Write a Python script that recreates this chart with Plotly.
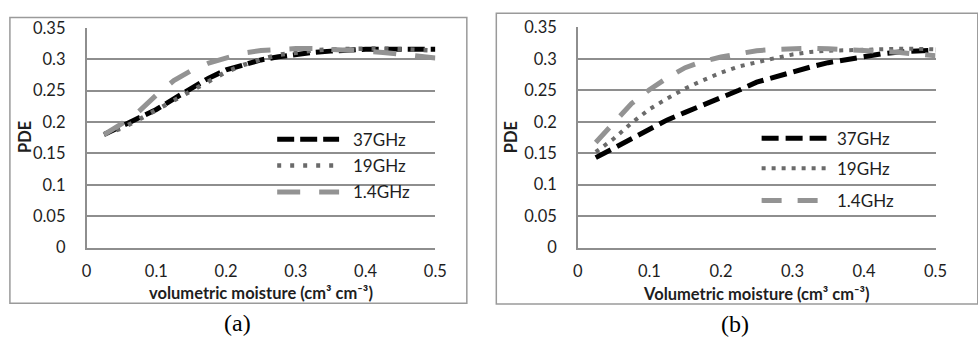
import plotly.graph_objects as go

# Volumetric soil moisture (cm3 cm-3)
moisture = [0.025, 0.05, 0.075, 0.1, 0.125, 0.15, 0.175, 0.2, 0.225, 0.25,
            0.275, 0.3, 0.325, 0.35, 0.375, 0.4, 0.425, 0.45, 0.475, 0.5]

# Panel (a): PDE per frequency
a_37ghz = [0.18, 0.193, 0.206, 0.22, 0.237, 0.254, 0.27, 0.283, 0.292, 0.299,
           0.304, 0.308, 0.311, 0.313, 0.315, 0.316, 0.316, 0.316, 0.316, 0.316]
a_19ghz = [0.18, 0.19, 0.204, 0.219, 0.234, 0.25, 0.266, 0.28, 0.291, 0.3,
           0.307, 0.311, 0.314, 0.316, 0.317, 0.317, 0.317, 0.316, 0.315, 0.314]
a_1_4ghz = [0.18, 0.197, 0.217, 0.243, 0.266, 0.282, 0.294, 0.303, 0.31, 0.314,
            0.316, 0.317, 0.317, 0.316, 0.315, 0.313, 0.311, 0.308, 0.305, 0.302]

# Panel (b): PDE per frequency
b_37ghz = [0.143, 0.158, 0.173, 0.188, 0.203, 0.215, 0.226, 0.238, 0.25, 0.263,
           0.271, 0.281, 0.287, 0.294, 0.299, 0.304, 0.308, 0.311, 0.313, 0.314]
b_19ghz = [0.152, 0.173, 0.198, 0.22, 0.237, 0.253, 0.266, 0.278, 0.288, 0.295,
           0.301, 0.307, 0.311, 0.313, 0.314, 0.315, 0.316, 0.316, 0.316, 0.315]
b_1_4ghz = [0.167, 0.198, 0.229, 0.251, 0.27, 0.286, 0.296, 0.303, 0.309, 0.313,
            0.315, 0.316, 0.317, 0.316, 0.315, 0.314, 0.312, 0.31, 0.307, 0.305]

series_names = ["37GHz", "19GHz", "1.4GHz"]
x_ticks = [0, 0.1, 0.2, 0.3, 0.4, 0.5]
x_ticktext = ["0", "0.1", "0.2", "0.3", "0.4", "0.5"]
y_ticks = [0, 0.05, 0.1, 0.15, 0.2, 0.25, 0.3, 0.35]
y_ticktext = ["0", "0.05", "0.1", "0.15", "0.2", "0.25", "0.3", "0.35"]

W, H = 978, 349
FONT = "Lato"
TXT = "#1e1e1e"
GRID = "#8e8e8e"
FRAME = "#9a9a9a"


def px(x):
    return x / W


def py(y):
    return 1 - y / H


styles = {
    "a": [
        dict(color="#000000", width=5, dash="17px,6px"),
        dict(color="#6a6a6a", width=4.5, dash="4px,9px"),
        dict(color="#939393", width=5, dash="23px,19px"),
    ],
    "b": [
        dict(color="#000000", width=5, dash="17px,7px"),
        dict(color="#6a6a6a", width=4, dash="4px,6px"),
        dict(color="#939393", width=5, dash="20px,16px"),
    ],
}

fig = go.Figure()

panels = [
    ("a", "x", "y", [a_37ghz, a_19ghz, a_1_4ghz]),
    ("b", "x2", "y2", [b_37ghz, b_19ghz, b_1_4ghz]),
]
for key, xa, ya, ys in panels:
    for name, vals, st in zip(series_names, ys, styles[key]):
        fig.add_trace(go.Scatter(
            x=moisture, y=vals, name=name, mode="lines",
            line=dict(color=st["color"], width=st["width"], dash=st["dash"]),
            xaxis=xa, yaxis=ya, showlegend=False,
        ))

axis_common = dict(
    tickfont=dict(family=FONT, size=16.5, color=TXT),
    ticks="", showline=True, linecolor=GRID, linewidth=1.5,
    zeroline=False, fixedrange=True,
)
x_common = dict(axis_common, range=[0, 0.5], tickvals=x_ticks, ticktext=x_ticktext,
                showgrid=False, ticklabelstandoff=8)
y_common = dict(axis_common, range=[0, 0.35], tickvals=y_ticks, ticktext=y_ticktext,
                showgrid=True, gridcolor=GRID, gridwidth=1.5, ticklabelstandoff=16)

fig.update_layout(
    width=W, height=H,
    margin=dict(l=0, r=0, t=0, b=0),
    paper_bgcolor="white", plot_bgcolor="white",
    showlegend=False,
    xaxis=dict(x_common, domain=[px(83), px(438)], anchor="y"),
    yaxis=dict(y_common, domain=[py(252), py(19)], anchor="x"),
    xaxis2=dict(x_common, domain=[px(583), px(947)], anchor="y2"),
    yaxis2=dict(y_common, domain=[py(252), py(18.5)], anchor="x2"),
)

shapes = []
annotations = []

# Chart-area frames
shapes.append(dict(type="rect", xref="paper", yref="paper",
                   x0=px(5), x1=px(470), y0=py(311), y1=py(8),
                   line=dict(color=FRAME, width=1.5), layer="below"))
shapes.append(dict(type="rect", xref="paper", yref="paper",
                   x0=px(500), x1=px(990), y0=py(312), y1=py(3.5),
                   line=dict(color=FRAME, width=1.5), layer="below"))

# In-plot legends
legend_layout = {
    "a": dict(x0=277, x1=340, tx=352, rows=[137, 165, 193]),
    "b": dict(x0=770, x1=836, tx=845, rows=[136, 168, 202]),
}
for key, lay in legend_layout.items():
    for name, st, yrow in zip(series_names, styles[key], lay["rows"]):
        shapes.append(dict(type="line", xref="paper", yref="paper",
                           x0=px(lay["x0"]), x1=px(lay["x1"]),
                           y0=py(yrow), y1=py(yrow),
                           line=dict(color=st["color"], width=st["width"], dash=st["dash"])))
        annotations.append(dict(text=name, xref="paper", yref="paper",
                                x=px(lay["tx"]), y=py(yrow), xanchor="left", yanchor="middle",
                                showarrow=False, font=dict(family=FONT, size=17, color=TXT)))

# Axis titles
title_font = dict(family=FONT, size=16.5, color=TXT, weight="bold")
annotations += [
    dict(text="volumetric moisture (cm³ cm⁻³)", xref="paper", yref="paper",
         x=px(261), y=py(300), xanchor="center", yanchor="middle", showarrow=False, font=title_font),
    dict(text="Volumetric moisture (cm³ cm⁻³)", xref="paper", yref="paper",
         x=px(765), y=py(301), xanchor="center", yanchor="middle", showarrow=False, font=title_font),
    dict(text="PDE", xref="paper", yref="paper", textangle=-90,
         x=px(21), y=py(135), xanchor="center", yanchor="middle", showarrow=False, font=title_font),
    dict(text="PDE", xref="paper", yref="paper", textangle=-90,
         x=px(515), y=py(135), xanchor="center", yanchor="middle", showarrow=False, font=title_font),
]

# Panel captions
cap_font = dict(family="Liberation Serif", size=24, color="#000000")
annotations += [
    dict(text="(a)", xref="paper", yref="paper", x=px(237), y=py(332),
         xanchor="center", yanchor="middle", showarrow=False, font=cap_font),
    dict(text="(b)", xref="paper", yref="paper", x=px(743), y=py(333),
         xanchor="center", yanchor="middle", showarrow=False, font=cap_font),
]

fig.update_layout(shapes=shapes, annotations=annotations)
fig.write_html("out.html")
